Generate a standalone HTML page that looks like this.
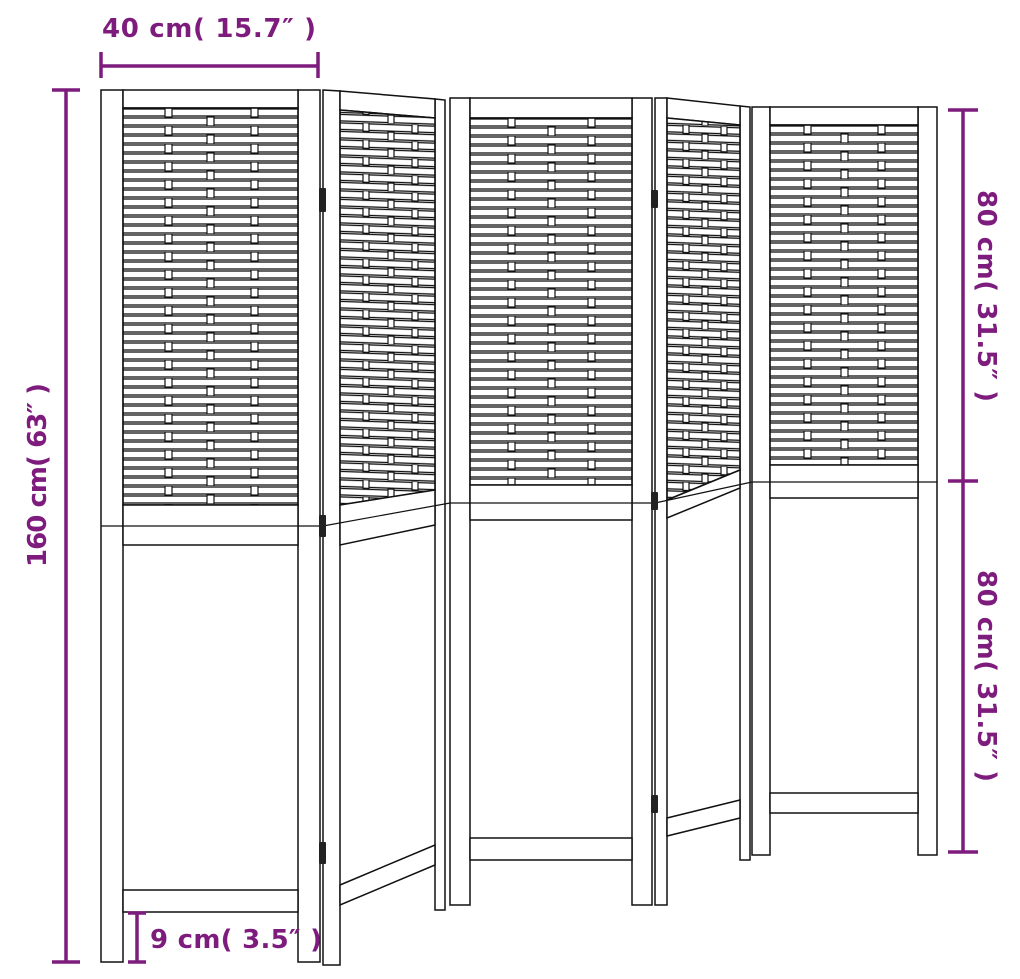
<!DOCTYPE html>
<html><head><style>
html,body{margin:0;padding:0;background:#fff;}
svg{display:block;}
.t{font-family:"DejaVu Sans","Liberation Sans",sans-serif;font-weight:bold;font-size:26px;fill:#7e1c7e;}
</style></head><body>
<svg width="1020" height="979" viewBox="0 0 1020 979" xmlns="http://www.w3.org/2000/svg">
<defs>
<pattern id="p1" patternUnits="userSpaceOnUse" x="123" y="108" width="175" height="18">
<rect x="0" y="1" width="175" height="7" fill="#fff" stroke="#111" stroke-width="1.3"/>
<rect x="0" y="10" width="175" height="7" fill="#fff" stroke="#111" stroke-width="1.3"/>
<rect x="42" y="0" width="7" height="9" fill="#fff" stroke="#111" stroke-width="1.2"/>
<rect x="128" y="0" width="7" height="9" fill="#fff" stroke="#111" stroke-width="1.2"/>
<rect x="84" y="9" width="7" height="9" fill="#fff" stroke="#111" stroke-width="1.2"/>
</pattern>
<pattern id="p3" patternUnits="userSpaceOnUse" x="470" y="118" width="162" height="18">
<rect x="0" y="1" width="162" height="7" fill="#fff" stroke="#111" stroke-width="1.3"/>
<rect x="0" y="10" width="162" height="7" fill="#fff" stroke="#111" stroke-width="1.3"/>
<rect x="38" y="0" width="7" height="9" fill="#fff" stroke="#111" stroke-width="1.2"/>
<rect x="118" y="0" width="7" height="9" fill="#fff" stroke="#111" stroke-width="1.2"/>
<rect x="78" y="9" width="7" height="9" fill="#fff" stroke="#111" stroke-width="1.2"/>
</pattern>
<pattern id="p5" patternUnits="userSpaceOnUse" x="770" y="125" width="148" height="18">
<rect x="0" y="1" width="148" height="7" fill="#fff" stroke="#111" stroke-width="1.3"/>
<rect x="0" y="10" width="148" height="7" fill="#fff" stroke="#111" stroke-width="1.3"/>
<rect x="34" y="0" width="7" height="9" fill="#fff" stroke="#111" stroke-width="1.2"/>
<rect x="108" y="0" width="7" height="9" fill="#fff" stroke="#111" stroke-width="1.2"/>
<rect x="71" y="9" width="7" height="9" fill="#fff" stroke="#111" stroke-width="1.2"/>
</pattern>
<pattern id="p2" patternUnits="userSpaceOnUse" x="340" y="110" width="95" height="17" patternTransform="skewY(2)">
<rect x="0" y="1" width="95" height="6.5" fill="#fff" stroke="#111" stroke-width="1.3"/>
<rect x="0" y="9.5" width="95" height="6.5" fill="#fff" stroke="#111" stroke-width="1.3"/>
<rect x="23" y="0" width="6" height="8.5" fill="#fff" stroke="#111" stroke-width="1.2"/>
<rect x="72" y="0" width="6" height="8.5" fill="#fff" stroke="#111" stroke-width="1.2"/>
<rect x="48" y="8.5" width="6" height="8.5" fill="#fff" stroke="#111" stroke-width="1.2"/>
</pattern>
<pattern id="p4" patternUnits="userSpaceOnUse" x="667" y="118" width="73" height="17" patternTransform="skewY(2)">
<rect x="0" y="1" width="73" height="6.5" fill="#fff" stroke="#111" stroke-width="1.3"/>
<rect x="0" y="9.5" width="73" height="6.5" fill="#fff" stroke="#111" stroke-width="1.3"/>
<rect x="16" y="0" width="6" height="8.5" fill="#fff" stroke="#111" stroke-width="1.2"/>
<rect x="54" y="0" width="6" height="8.5" fill="#fff" stroke="#111" stroke-width="1.2"/>
<rect x="35" y="8.5" width="6" height="8.5" fill="#fff" stroke="#111" stroke-width="1.2"/>
</pattern>
</defs>

<g fill="#fff" stroke="#111" stroke-width="1.5">
<rect x="101" y="90" width="22" height="872"/>
<rect x="298" y="90" width="22" height="872"/>
<rect x="123" y="90" width="175" height="18"/>
<rect x="123" y="108" width="175" height="397" fill="url(#p1)"/>
<rect x="123" y="505" width="175" height="40"/>
<rect x="123" y="890" width="175" height="22"/>
<polygon points="323,90 340,91 340,965 323,965"/>
<polygon points="435,99 445,100 445,910 435,910"/>
<polygon points="340,91 435,99 435,118 340,110"/>
<polygon points="340,110 435,118 435,490 340,505" fill="url(#p2)"/>
<polygon points="340,505 435,490 435,525 340,545"/>
<polygon points="340,885 435,845 435,865 340,905"/>
<rect x="450" y="98" width="20" height="807"/>
<rect x="632" y="98" width="20" height="807"/>
<rect x="470" y="98" width="162" height="20"/>
<rect x="470" y="118" width="162" height="367" fill="url(#p3)"/>
<rect x="470" y="485" width="162" height="35"/>
<rect x="470" y="838" width="162" height="22"/>
<polygon points="655,98 667,98 667,905 655,905"/>
<polygon points="740,106 750,107 750,860 740,860"/>
<polygon points="667,98 740,106 740,125 667,118"/>
<polygon points="667,118 740,125 740,470 667,500" fill="url(#p4)"/>
<polygon points="667,500 740,470 740,488 667,518"/>
<polygon points="667,818 740,800 740,818 667,836"/>
<rect x="752" y="107" width="18" height="748"/>
<rect x="918" y="107" width="19" height="748"/>
<rect x="770" y="107" width="148" height="18"/>
<rect x="770" y="125" width="148" height="340" fill="url(#p5)"/>
<rect x="770" y="465" width="148" height="33"/>
<rect x="770" y="793" width="148" height="20"/>
</g>
<g stroke="#111" stroke-width="1.2" fill="none">
<line x1="101" y1="526" x2="323" y2="526"/>
<line x1="323" y1="526" x2="450" y2="503"/>
<line x1="450" y1="503" x2="655" y2="503"/>
<line x1="655" y1="503" x2="752" y2="482"/>
<line x1="752" y1="482" x2="937" y2="482"/>
</g>
<g fill="#222">
<rect x="319" y="188" width="7" height="24" rx="1"/>
<rect x="319" y="515" width="7" height="22" rx="1"/>
<rect x="319" y="842" width="7" height="22" rx="1"/>
<rect x="651" y="190" width="7" height="18" rx="1"/>
<rect x="651" y="492" width="7" height="18" rx="1"/>
<rect x="651" y="795" width="7" height="18" rx="1"/>
</g>
<g stroke="#7e1c7e" stroke-width="3.5" fill="none">
<line x1="101" y1="66" x2="318" y2="66"/>
<line x1="101" y1="52" x2="101" y2="78"/>
<line x1="318" y1="52" x2="318" y2="78"/>
<line x1="66" y1="90" x2="66" y2="962"/>
<line x1="52" y1="90" x2="80" y2="90"/>
<line x1="52" y1="962" x2="80" y2="962"/>
<line x1="963" y1="110" x2="963" y2="852"/>
<line x1="948" y1="110" x2="978" y2="110"/>
<line x1="948" y1="481" x2="978" y2="481"/>
<line x1="948" y1="852" x2="978" y2="852"/>
<line x1="137" y1="913" x2="137" y2="962"/>
<line x1="128" y1="913" x2="146" y2="913"/>
<line x1="128" y1="962" x2="146" y2="962"/>
</g>
<text class="t" x="102" y="37" textLength="214" lengthAdjust="spacing">40 cm( 15.7″ )</text>
<text class="t" x="150" y="948" font-size="23" textLength="172" lengthAdjust="spacing">9 cm( 3.5″ )</text>
<text class="t" transform="translate(46,567) rotate(-90)" textLength="184" lengthAdjust="spacing">160 cm( 63″ )</text>
<text class="t" transform="translate(978,190) rotate(90)" textLength="212" lengthAdjust="spacing">80 cm( 31.5″ )</text>
<text class="t" transform="translate(978,570) rotate(90)" textLength="212" lengthAdjust="spacing">80 cm( 31.5″ )</text>
</svg>
</body></html>
